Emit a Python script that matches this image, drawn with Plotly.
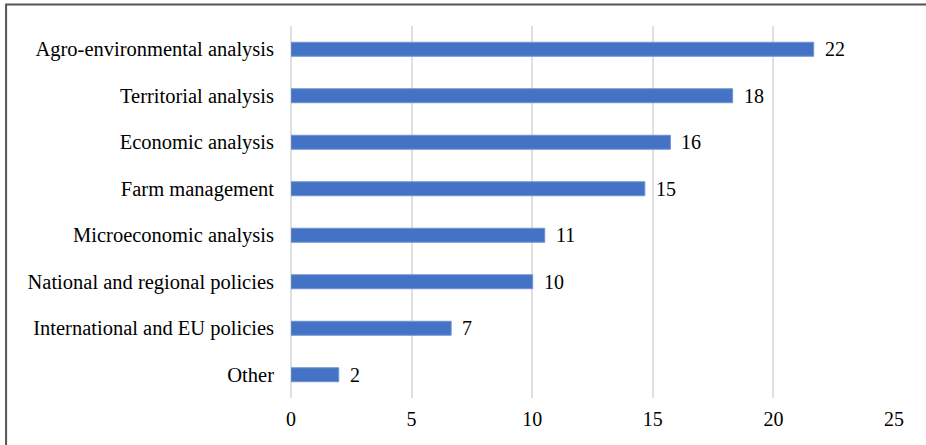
import plotly.graph_objects as go

categories = [
    "Agro-environmental analysis",
    "Territorial analysis",
    "Economic analysis",
    "Farm management",
    "Microeconomic analysis",
    "National and regional policies",
    "International and EU policies",
    "Other",
]
values = [21.67, 18.31, 15.73, 14.67, 10.52, 10.02, 6.64, 1.98]
labels = ["22", "18", "16", "15", "11", "10", "7", "2"]
x_ticks = [0, 5, 10, 15, 20, 25]

font_family = "Liberation Serif, Times New Roman, serif"
bar_color = "#4472C4"
grid_color = "#e0e0e0"

fig = go.Figure()
fig.add_trace(go.Bar(
    x=values,
    y=categories,
    orientation="h",
    marker=dict(color=bar_color, line=dict(color="#6f93d6", width=1)),
    hoverinfo="x+y",
))

for v, c, t in zip(values, categories, labels):
    fig.add_annotation(
        x=v, y=c, text=t, showarrow=False, xanchor="left", xshift=9,
        font=dict(family=font_family, size=20, color="#000000"),
    )

# outer frame (top and left edges visible in the reference)
fig.add_shape(
    type="path", xref="paper", yref="paper",
    path="M -0.4725 -0.2 L -0.4725 1.0578 L 1.1 1.0578",
    line=dict(color="#555555", width=2),
)

fig.update_layout(
    width=926, height=445,
    margin=dict(l=291, r=32, t=26, b=47),
    paper_bgcolor="white",
    plot_bgcolor="white",
    bargap=0.7,
    showlegend=False,
    font=dict(family=font_family, size=20, color="#000000"),
    xaxis=dict(
        range=[0, 25], tickvals=x_ticks, showgrid=True,
        gridcolor=grid_color, gridwidth=2,
        zeroline=True, zerolinecolor=grid_color, zerolinewidth=2,
        showline=False, ticks="", ticklabelstandoff=7,
        tickfont=dict(family=font_family, size=20),
    ),
    yaxis=dict(
        categoryorder="array", categoryarray=categories[::-1],
        showgrid=False, zeroline=False, showline=False,
        ticks="", ticklabelstandoff=16,
        tickfont=dict(family=font_family, size=20.5),
    ),
)

fig.write_html("out.html")
